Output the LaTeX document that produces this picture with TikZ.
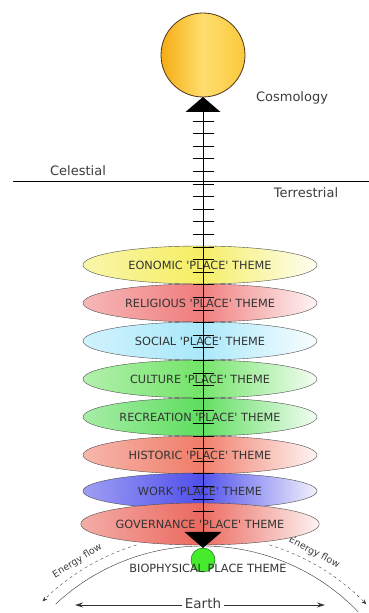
\documentclass[tikz,border=0pt]{standalone}
\usepackage{fontspec}
\setmainfont{DejaVu Sans}
\usepackage{xcolor}
\usetikzlibrary{arrows.meta, shapes.geometric, positioning, calc}

\definecolor{econcol}{RGB}{245,238,100}
\definecolor{religcol}{RGB}{240,125,125}
\definecolor{socialcol}{RGB}{170,232,250}
\definecolor{culturecol}{RGB}{115,228,105}
\definecolor{recreatcol}{RGB}{95,222,95}
\definecolor{historcol}{RGB}{240,125,105}
\definecolor{workcol}{RGB}{80,80,235}
\definecolor{govcol}{RGB}{235,105,95}
\definecolor{sunA}{RGB}{245,172,20}
\definecolor{sunB}{RGB}{255,222,110}
\definecolor{sunC}{RGB}{250,200,60}
\definecolor{txtgray}{RGB}{60,60,60}
\newcommand{\tq}{\textquotesingle}

\begin{document}
\begin{tikzpicture}[x=1pt, y=1pt,
    theme/.style={ellipse, draw=black!70, thin, minimum width=234pt, inner sep=0pt,
      text=black!80, font=\fontsize{11.3}{13}\selectfont},
    lbl/.style={text=txtgray, font=\fontsize{13}{15}\selectfont, inner sep=1pt},
    flowlbl/.style={text=txtgray, font=\fontsize{9.5}{11}\selectfont, inner sep=0pt},
    axis/.style={thick},
    tick/.style={thick},
    flow/.style={dashed, black!75, -{Stealth[length=5pt, width=4pt]}},
    earth/.style={thick, black!80, -{Stealth[length=8pt, width=5pt]}}
  ]
  \useasboundingbox (0,0) rectangle (369,613);
  % Sun
  \node[circle, draw=black!60!brown, thick, minimum size=84pt,
    left color=sunA, right color=sunC, middle color=sunB] (sun) at (203,558) {};
  \node[lbl] (cosmo) at (292,515) {Cosmology};
  % Celestial / terrestrial divide
  \coordinate (horL) at (13,432);
  \coordinate (horR) at (369,432);
  \draw[thin] (horL) -- (horR);
  \node[lbl] (celest) at (78,442) {Celestial};
  \node[lbl] (terr) at (306,420) {Terrestrial};
  % Earth arc and energy flow
  \coordinate (earthC) at (203,-149);
  \draw[thin, black!80] ([shift={(133:216)}]earthC) arc[start angle=133, end angle=44, radius=216];
  \draw[flow] ([shift={(107:227)}]earthC) arc[start angle=107, end angle=135, radius=227];
  \draw[flow] ([shift={(73:227)}]earthC) arc[start angle=73, end angle=44, radius=227];
  \node[flowlbl, rotate=32] (flowL) at ([shift={(122:237)}]earthC) {Energy flow};
  \node[flowlbl, rotate=-28] (flowR) at ([shift={(62:237)}]earthC) {Energy flow};
  % Themes
  \foreach \nm/\yy/\hh/\col/\txt in {
      econ/348/38/econcol/{EONOMIC \tq PLACE\tq{} THEME},
      relig/310/38/religcol/{RELIGIOUS \tq PLACE\tq{} THEME},
      social/272/38/socialcol/{SOCIAL \tq PLACE\tq{} THEME},
      culture/234/38/culturecol/{CULTURE \tq PLACE\tq{} THEME},
      recreat/196/38/recreatcol/{RECREATION \tq PLACE\tq{} THEME},
      histor/158/38/historcol/{HISTORIC \tq PLACE\tq{} THEME},
      work/122/36/workcol/{WORK \tq PLACE\tq{} THEME},
      gov/89/42/govcol/{GOVERNANCE \tq PLACE\tq{} THEME}}
    \node[theme, minimum height=\hh pt, left color=\col!55!white, right color=\col!8!white,
      middle color=\col] (\nm) at (200,\yy) {\txt};
  % Axis with ticks
  \coordinate (axtop) at (203,501);
  \coordinate (axbot) at (203,81);
  \draw[axis] (axtop) -- (axbot);
  \foreach \i in {0,...,31}
    \draw[tick] ($(axtop)+(-10.5,-9-12.6*\i)$) -- ++(21,0);
  \fill (axtop) -- ++(-17.5,0) -- (203,516) -- ($(axtop)+(17.5,0)$) -- cycle;
  \fill (axbot) -- ++(-18.5,0) -- (203,65) -- ($(axbot)+(18.5,0)$) -- cycle;
  % Biophysical place
  \node[circle, draw=green!35!black, thin, fill={rgb,255:red,70;green,235;blue,45},
    minimum size=24pt, inner sep=0pt] (bio) at (203,53) {};
  \node[theme, draw=none, fill=none] (biolbl) at (208,45) {BIOPHYSICAL PLACE THEME};
  % Earth
  \node[lbl, inner sep=3pt, font=\fontsize{13.5}{15}\selectfont] (earthlbl) at (203,10) {Earth};
  \coordinate (earthL) at (75,8);
  \coordinate (earthR) at (325,8);
  \draw[earth] (earthlbl.west |- earthL) -- (earthL);
  \draw[earth] (earthlbl.east |- earthR) -- (earthR);
\end{tikzpicture}
\end{document}
